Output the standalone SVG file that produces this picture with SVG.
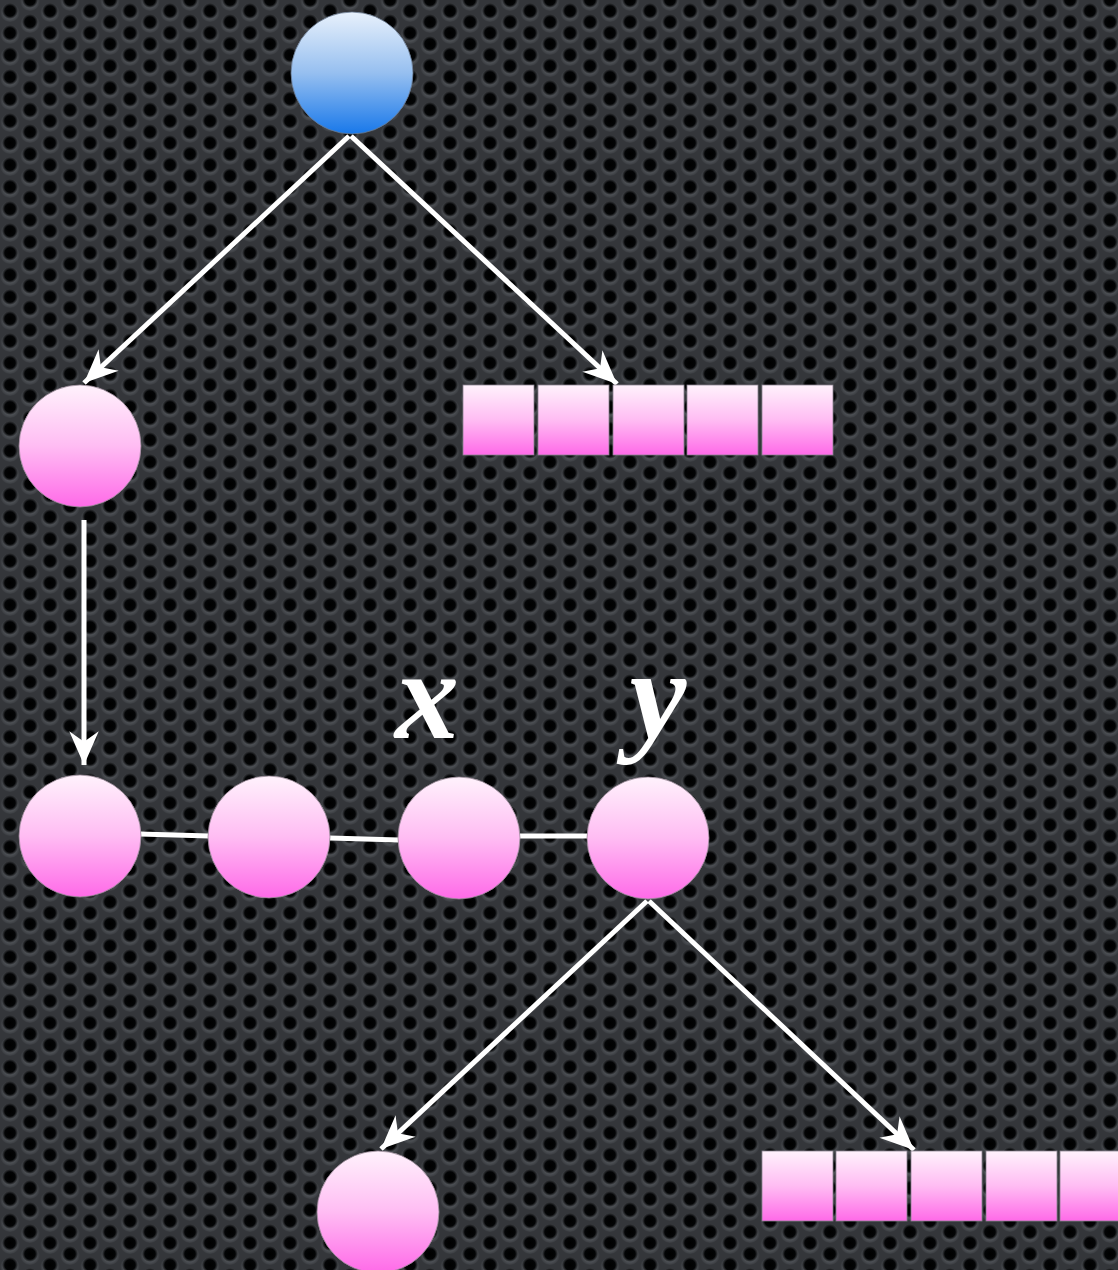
<svg xmlns="http://www.w3.org/2000/svg" width="1118" height="1270" viewBox="0 0 1118 1270">
  <defs>
    <!-- perforated metal backdrop -->
    <radialGradient id="hole" cx="50%" cy="50%" r="50%">
      <stop offset="0" stop-color="#000"/>
      <stop offset="0.65" stop-color="#030405"/>
      <stop offset="1" stop-color="#000" stop-opacity="0"/>
    </radialGradient>
    <radialGradient id="rim" cx="50%" cy="55%" r="50%">
      <stop offset="0.55" stop-color="#5c6065" stop-opacity="0.7"/>
      <stop offset="1" stop-color="#5c6065" stop-opacity="0"/>
    </radialGradient>
    <pattern id="mesh" x="0" y="0" width="40" height="22" patternUnits="userSpaceOnUse">
      <rect width="40" height="22" fill="#34363a"/>
      <circle cx="10" cy="12" r="10" fill="url(#rim)"/>
      <circle cx="30" cy="1" r="10" fill="url(#rim)"/>
      <circle cx="30" cy="23" r="10" fill="url(#rim)"/>
      <circle cx="10" cy="11" r="8" fill="url(#hole)"/>
      <circle cx="30" cy="0" r="8" fill="url(#hole)"/>
      <circle cx="30" cy="22" r="8" fill="url(#hole)"/>
    </pattern>

    <linearGradient id="pink" x1="0" y1="0" x2="0" y2="1">
      <stop offset="0" stop-color="#fff2fc"/>
      <stop offset="0.5" stop-color="#ffbcf3"/>
      <stop offset="1" stop-color="#ff6ae8"/>
    </linearGradient>
    <linearGradient id="blue" x1="0" y1="0" x2="0" y2="1">
      <stop offset="0" stop-color="#e8f1fc"/>
      <stop offset="0.5" stop-color="#96bff0"/>
      <stop offset="1" stop-color="#1878ea"/>
    </linearGradient>

    <marker id="head" markerUnits="userSpaceOnUse" markerWidth="40" markerHeight="40"
            viewBox="-34 -17 38 34" refX="0" refY="0" orient="auto">
      <path d="M0,0 L-32,-14 L-22,0 L-32,14 Z" fill="#fff"/>
    </marker>

    <style>
      .edge { stroke: #fff; stroke-width: 5; fill: none; }
      .arrow { marker-end: url(#head); }
      .pnode { fill: url(#pink); stroke: #9a8a98; stroke-width: 0.8; }
      .bnode { fill: url(#blue); stroke: #6a7a90; stroke-width: 0.8; }
      .cell { fill: url(#pink); stroke: #8a8290; stroke-width: 0.8; }
      .var { font-family: "Liberation Serif", "DejaVu Serif", serif; font-weight: bold; font-style: italic; font-size: 128px; fill: #fff; text-anchor: middle; }
    </style>
  </defs>

  <rect width="1118" height="1270" fill="url(#mesh)"/>

  <!-- connectors -->
  <g id="connectors">
    <line class="edge arrow" x1="349" y1="136" x2="84" y2="383"/>
    <line class="edge arrow" x1="351" y1="136" x2="617" y2="384"/>
    <line class="edge arrow" x1="84" y1="520" x2="84" y2="765"/>
    <line class="edge" x1="140" y1="834" x2="209" y2="836"/>
    <line class="edge" x1="330" y1="838" x2="399" y2="840"/>
    <line class="edge" x1="519" y1="836" x2="588" y2="836"/>
    <line class="edge arrow" x1="647" y1="901" x2="381" y2="1149"/>
    <line class="edge arrow" x1="649" y1="901" x2="914" y2="1150"/>
  </g>

  <!-- root -->
  <g id="root">
    <circle class="bnode" cx="352" cy="73" r="61"/>
  </g>

  <!-- left child -->
  <g id="left">
    <circle class="pnode" cx="80" cy="446" r="61"/>
  </g>

  <!-- upper array -->
  <g id="array-top">
    <rect class="cell" x="463" y="385" width="71" height="70"/>
    <rect class="cell" x="538" y="385" width="71" height="70"/>
    <rect class="cell" x="613" y="385" width="71" height="70"/>
    <rect class="cell" x="687" y="385" width="71" height="70"/>
    <rect class="cell" x="762" y="385" width="71" height="70"/>
  </g>

  <!-- chain -->
  <g id="chain-1">
    <circle class="pnode" cx="80" cy="836" r="61"/>
  </g>
  <g id="chain-2">
    <circle class="pnode" cx="269" cy="837" r="61"/>
  </g>
  <g id="chain-x">
    <circle class="pnode" cx="459" cy="838" r="61"/>
    <text class="var" x="427" y="738">x</text>
  </g>
  <g id="chain-y">
    <circle class="pnode" cx="648" cy="838" r="61"/>
    <text class="var" x="658" y="738">y</text>
  </g>

  <!-- bottom child -->
  <g id="bottom">
    <circle class="pnode" cx="378" cy="1212" r="61"/>
  </g>

  <!-- lower array -->
  <g id="array-bottom">
    <rect class="cell" x="762" y="1151" width="71" height="70"/>
    <rect class="cell" x="836" y="1151" width="71" height="70"/>
    <rect class="cell" x="911" y="1151" width="71" height="70"/>
    <rect class="cell" x="986" y="1151" width="71" height="70"/>
    <rect class="cell" x="1060" y="1151" width="71" height="70"/>
  </g>
</svg>
